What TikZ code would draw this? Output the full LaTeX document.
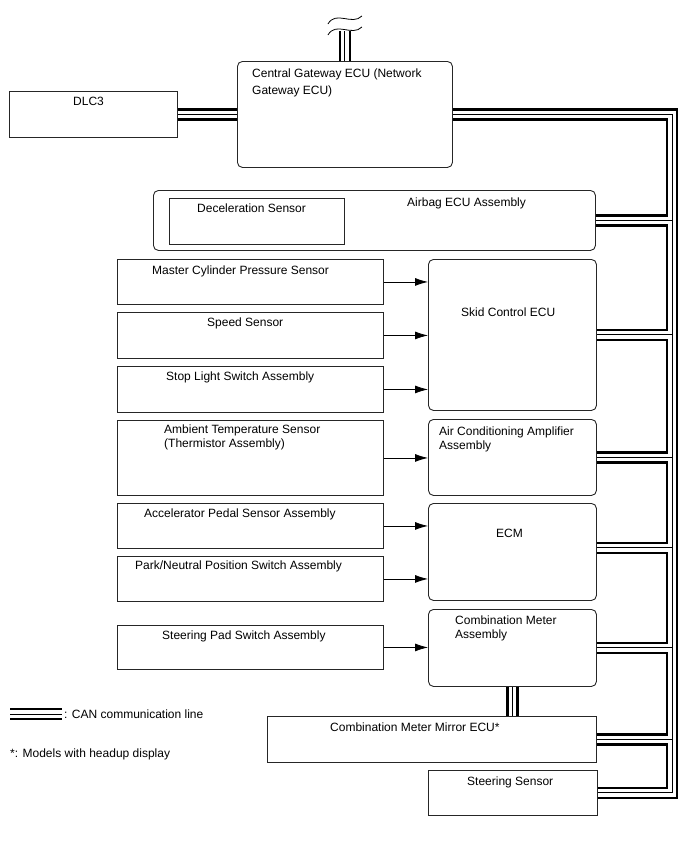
\documentclass[tikz,border=0pt]{standalone}
\usepackage{fontspec}
\setmainfont{Liberation Sans}
\usetikzlibrary{arrows.meta, positioning, calc}

\newcommand\lblfont{\fontsize{12}{14}\selectfont}

\tikzset{
  ecu/.style      = {draw=black!85, line width=0.9, rounded corners=5,
                     anchor=north west, inner sep=0},
  part/.style     = {draw=black!85, line width=0.9, anchor=north west,
                     inner sep=0},
  txt/.style      = {inner sep=0, font=\lblfont, align=left},
  arrow/.style    = {-{Latex[length=13,width=8]}, line width=0.8},
  canouter/.style = {line width=12.5, black, line join=miter},
  cangap/.style   = {line width=7.5, white, line join=miter},
  cancore/.style  = {line width=1, black, line join=miter},
  brkline/.style  = {line width=0.8, black},
}

\begin{document}
\begin{tikzpicture}[x=1pt, y=-1pt]
\useasboundingbox (0,0) rectangle (688,852);

% gateway and DLC3
\node[ecu, minimum width=215, minimum height=106] (gw) at (237,61) {};
\node[txt, font={\fontsize{12}{16.5}\selectfont}, below right=8pt and 15pt of gw.north west] (gwt)
  {Central Gateway ECU (Network\\Gateway ECU)};
\node[part, minimum width=168, minimum height=46] (dlc) at (9,91) {};
\node[txt, below right=6pt and 64pt of dlc.north west] (dlct) {DLC3};

% airbag
\node[ecu, minimum width=442, minimum height=60] (airbag) at (153,190) {};
\node[txt, below right=8pt and 254pt of airbag.north west] (airbagt) {Airbag ECU Assembly};
\node[part, minimum width=175, minimum height=46] (decel) at (169,198) {};
\node[txt, below right=6pt and 28pt of decel.north west] (decelt) {Deceleration Sensor};

% ECUs on the right
\node[ecu, minimum width=168, minimum height=151] (skid) at (428,259) {};
\node[txt, below right=49pt and 33pt of skid.north west] (skidt) {Skid Control ECU};
\node[ecu, minimum width=168, minimum height=76] (ac) at (428,419) {};
\node[txt, below right=8pt and 11pt of ac.north west] (act) {Air Conditioning Amplifier\\Assembly};
\node[ecu, minimum width=168, minimum height=97] (ecm) at (428,503) {};
\node[txt, below right=26pt and 68pt of ecm.north west] (ecmt) {ECM};
\node[ecu, minimum width=168, minimum height=77] (comb) at (428,609) {};
\node[txt, below right=7pt and 27pt of comb.north west] (combt) {Combination Meter\\Assembly};
\node[part, minimum width=329, minimum height=46] (mirror) at (267,716) {};
\node[txt, below right=7pt and 63pt of mirror.north west] (mirrort) {Combination Meter Mirror ECU*};
\node[part, minimum width=169, minimum height=45] (steer) at (428,770) {};
\node[txt, below right=7pt and 39pt of steer.north west] (steert) {Steering Sensor};

% sensors on the left
\node[part, minimum width=266, minimum height=45] (mcps) at (117,259) {};
\node[txt, below right=7pt and 35pt of mcps.north west] (mcpst) {Master Cylinder Pressure Sensor};
\node[part, minimum width=266, minimum height=46] (speed) at (117,312) {};
\node[txt, below right=6pt and 90pt of speed.north west] (speedt) {Speed Sensor};
\node[part, minimum width=266, minimum height=46] (stop) at (117,366) {};
\node[txt, below right=6pt and 49pt of stop.north west] (stopt) {Stop Light Switch Assembly};
\node[part, minimum width=266, minimum height=75] (amb) at (117,420) {};
\node[txt, below right=5pt and 47pt of amb.north west] (ambt) {Ambient Temperature Sensor\\(Thermistor Assembly)};
\node[part, minimum width=266, minimum height=45] (accel) at (117,503) {};
\node[txt, below right=6pt and 27pt of accel.north west] (accelt) {Accelerator Pedal Sensor Assembly};
\node[part, minimum width=266, minimum height=45] (park) at (117,556) {};
\node[txt, below right=5pt and 18pt of park.north west] (parkt) {Park/Neutral Position Switch Assembly};
\node[part, minimum width=266, minimum height=44] (pad) at (117,625) {};
\node[txt, below right=6pt and 45pt of pad.north west] (padt) {Steering Pad Switch Assembly};

% sensor signals
\foreach \s in {mcps,speed,stop}
  \draw[arrow] (\s.east) -- (\s.east -| skid.west);
\draw[arrow] (amb.east) -- (amb.east -| ac.west);
\foreach \s in {accel,park}
  \draw[arrow] (\s.east) -- (\s.east -| ecm.west);
\draw[arrow] (pad.east) -- (pad.east -| comb.west);

% legend
\coordinate (lgA) at (10,714);
\coordinate (lgB) at (62,714);
\node[txt, right=2pt of lgB] (lgt) {: CAN communication line};
\node[txt, anchor=north west] (note) at (10,749) {*: Models with headup display};

% CAN lines, drawn in three passes
\coordinate (busx) at (672,0);
\coordinate (brk) at ([yshift=30]gw.north);
\foreach \pass in {canouter,cangap,cancore}{
  \draw[\pass] (dlc.east) -- (gw.west);
  \draw[\pass] (gw.north) -- (brk);
  \draw[\pass] (gw.east) -- (gw.east -| busx) -- (busx |- steer.east) -- (steer.east);
  \foreach \n in {airbag,skid,ac,comb,mirror}
    \draw[\pass] (\n.east) -- (\n.east -| busx);
  \draw[\pass] ([yshift=4]ecm.east) -- ([yshift=4]ecm.east -| busx);
  \draw[\pass] (comb.south) -- (comb.south |- mirror.north);
  \draw[\pass] (lgA) -- (lgB);
}

% break mark
\foreach \dy in {-12,-1}
  \draw[brkline] ([shift={(-17,\dy+5)}]brk) .. controls +(8,-14) and +(-10,10) .. ([shift={(17,\dy-3)}]brk);
\end{tikzpicture}
\end{document}
